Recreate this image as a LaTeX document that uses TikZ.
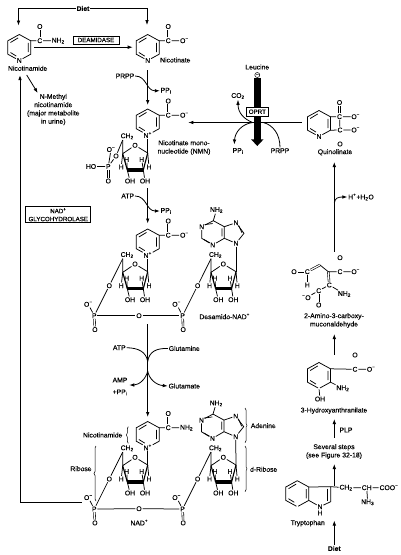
\documentclass[tikz,border=0pt]{standalone}
\usepackage{fontspec}
\setmainfont{Liberation Sans}[FakeBold=0.18]
\usetikzlibrary{arrows.meta,decorations.pathreplacing}

\newcommand{\subtwo}{\textsubscript{2}}
\newcommand{\minus}{\textsuperscript{−}}

\begin{document}
\begin{tikzpicture}[
    x=1pt, y=-1pt,
    every node/.style={font=\fontsize{6.8}{8.3}\selectfont, inner sep=0.7pt, align=center},
    bond/.style={line width=0.75pt},
    dbond/.style={double, double distance=1.2pt, line width=0.6pt},
    flow/.style={line width=0.8pt, -{Latex[length=5pt,width=3.6pt]}},
    plainflow/.style={line width=0.8pt},
    enzyme/.style={draw, line width=0.8pt, fill=white, font=\fontsize{6.2}{8}\selectfont},
    curly/.style={line width=0.5pt, decorate, decoration={brace, amplitude=2pt}},
    pics/sixring/.style={code={
        \coordinate (-t) at (0,-13);
        \coordinate (-ur) at (11.5,-6.7);
        \coordinate (-lr) at (11.5,6.7);
        \coordinate (-ll) at (-11.5,6.7);
        \coordinate (-ul) at (-11.5,-6.7);
        \node (-n) at (0,13) {#1};
        \draw[bond] (-n) -- (-lr) -- (-ur) -- (-t) -- (-ul) -- (-ll) -- (-n);
        \draw[bond] (-8.8,-5) -- (-1.2,-9.6) (8.9,-4.6) -- (8.9,4.6) (-8.8,5) -- (-3,8.6);
    }},
    pics/carboxyl/.style={code={
        \node (-c) at (20.5,-6.8) {C};
        \node (-o) at (20.5,-21) {O};
        \node[anchor=west] (-r) at (31.5,-6.8) {#1};
        \draw[bond] (11.5,-6.7) -- (-c) -- (-r);
        \draw[dbond] (-c) -- (-o);
    }},
    pics/ribose/.style={code={
        \coordinate (-c1) at (0,0);
        \coordinate (-c2) at (-4.4,17);
        \coordinate (-c3) at (-20.4,17);
        \coordinate (-c4) at (-25,0.7);
        \coordinate (-c5) at (-25,-13);
        \node (-o) at (-12.7,-7.7) {O};
        \node (-ch) at (-20.5,-16.7) {CH\subtwo};
        \node (-h1) at (-21,6.5) {H};
        \node (-h2) at (-26.5,14) {H};
        \node (-h3) at (-6,6.5) {H};
        \node (-h4) at (1.3,14) {H};
        \node (-oh1) at (-17.7,28) {OH};
        \node (-oh2) at (-2.7,28) {OH};
        \draw[bond] (-c1) -- (-o) -- (-c4) -- (-c5);
        \draw[line width=1.1pt] (-c4) -- (-c3) (-c1) -- (-c2);
        \draw[line width=3.2pt] (-c3) -- (-c2);
        \draw[bond] (-c3) -- (-h1) (-c2) -- (-h3) (-c4) -- (-h2) (-c1) -- (-h4);
        \draw[bond] (-c3) -- (-oh1) (-c2) -- (-oh2);
    }},
    pics/phosphate/.style={code={
        \node (-p) at (0,0) {P};
        \node (-om) at (-6,-11.4) {O\minus};
        \node (-od) at (0.6,13.9) {O};
        \draw[bond] (-om) -- (-p);
        \draw[dbond] (-p) -- (-od);
    }},
    pics/adenine/.style={code={
        \coordinate (-c6) at (-22.7,-22.6);
        \coordinate (-c2) at (-34.3,-5);
        \coordinate (-c4) at (-11.7,-5);
        \coordinate (-c5) at (-11.7,-16.6);
        \coordinate (-c8) at (8,-10);
        \node (-nh) at (-19.5,-33.3) {NH\subtwo};
        \node (-n1) at (-34.3,-16.5) {N};
        \node (-n3) at (-23.3,1.7) {N};
        \node (-n7) at (0,-20.6) {N};
        \node (-n9) at (0,0) {N};
        \draw[bond] (-nh) -- (-c6) -- (-n1) -- (-c2) -- (-n3) -- (-c4) -- (-c5) -- (-c6);
        \draw[bond] (-c5) -- (-n7) -- (-c8) -- (-n9) -- (-c4);
        \draw[bond] (-31.5,-18.6) -- (-23.4,-19.8) (-32,-3.8) -- (-26,-0.4) (-14,-7) -- (-14,-15) (2.6,-18) -- (6,-10.4);
    }}
]
\useasboundingbox (0,0) rectangle (400,555);

\node[font=\fontsize{6.8}{8}\bfseries] (diettop) at (83,8.5) {Diet};
\pic (nicotinamide) at (19.3,47.5) {sixring=N};
\pic (amide) at (19.3,47.5) {carboxyl={NH\subtwo}};
\node[enzyme, minimum width=46pt, minimum height=8pt] (deamidase) at (96,40) {DEAMIDASE};
\node (nicotinamidetxt) at (27.7,68.3) {Nicotinamide};
\node (methyl) at (53.3,109.5) {N-Methyl\\nicotinamide\\(major metabolite\\in urine)};
\pic (nicotinate) at (147.7,47.5) {sixring=N};
\pic (nicotinatecoo) at (147.7,47.5) {carboxyl={O\minus}};
\node (nicotinatetxt) at (175.3,60) {Nicotinate};

\coordinate (dietleft) at (18.5,25.5);
\coordinate (dietright) at (147,25);
\draw[flow] (diettop.west) -| (dietleft);
\draw[flow] (diettop.east) -| (dietright);
\coordinate (amideout) at (34.3,47.2);
\coordinate (nicotinatein) at (132.7,47.2);
\draw[flow] (amideout) -- (nicotinatein);
\coordinate (methylstart) at (26.7,75);
\coordinate (methylend) at (37.7,93);
\draw[flow] (methylstart) -- (methylend);

\node (prpp) at (125,76) {PRPP};
\node (ppione) at (166,90.7) {PP\textsubscript{i}};
\coordinate (nmntop) at (147.7,70);
\coordinate (nmnin) at (147.7,105);
\draw[flow] (nmntop) -- (nmnin);
\draw[flow] (prpp.east) .. controls (147,76) and (146,91) .. (ppione.west);

\pic (nmn) at (147.7,122) {sixring={N\textsuperscript{+}}};
\pic (nmncoo) at (147.7,122) {carboxyl={O\minus}};
\pic (nmnrib) at (147.7,153) {ribose};
\draw[bond] (nmn-n) -- (nmnrib-c1);
\node (nmno) at (116,156) {O};
\node (nmnoh) at (91,166.5) {HO};
\node (nmnp) at (108.3,166.5) {P};
\node (nmnq) at (111,149.5) {O\minus};
\node (nmnod) at (108.3,181) {O};
\draw[bond] (nmnrib-c5) -- (nmno) -- (nmnp);
\draw[bond] (nmnq) -- (nmnp) -- (nmnoh);
\draw[dbond] (nmnp) -- (nmnod);
\node (nmntxt) at (184,147.6) {Nicotinate mono-\\nucleotide (NMN)};

\node (leucine) at (257.3,67) {Leucine};
\node[draw, circle, fill=white, minimum size=5pt, inner sep=0pt, line width=0.5pt, font=\fontsize{5}{5}\selectfont] (inhibit) at (257.3,75) {−};
\coordinate (barend) at (257.3,146);
\draw[line width=6.6pt, -{Triangle[length=6.6pt,width=12pt]}] (inhibit.south) -- (barend);
\node (cotwo) at (238,96) {CO\subtwo};
\node (ppitwo) at (238,151) {PP\textsubscript{i}};
\node (prpptwo) at (280,150.7) {PRPP};
\pic (quinolinate) at (319,123.5) {sixring=N};
\pic (quincoo) at (319,123.5) {carboxyl={O\minus}};
\node (quinc) at (340,130) {C};
\node (quino) at (340,144) {O};
\node[anchor=west] (quinom) at (350.5,130) {O\minus};
\draw[bond] (quinolinate-lr) -- (quinc) -- (quinom);
\draw[dbond] (quinc) -- (quino);
\draw[bond] (quincoo-c) -- (quinc);
\node (quintxt) at (335,152.3) {Quinolinate};
\coordinate (quinout) at (301.7,122.5);
\coordinate (nmnarrow) at (188.3,122.5);
\draw[flow] (quinout) -- (nmnarrow);
\coordinate (oprtmid) at (252.5,122.5);
\coordinate (prptop) at (263.3,122.5);
\draw[flow] (oprtmid) .. controls (244,119) and (238,113) .. (cotwo.south);
\draw[flow] (oprtmid) .. controls (242,124) and (235,132) .. (234.3,144.5);
\draw[plainflow] (prpptwo.north) .. controls (280,134) and (273,125) .. (prptop);
\node[enzyme, minimum width=22pt, minimum height=8.5pt] (oprt) at (257.3,111.7) {OPRT};

\node[enzyme, minimum width=65pt, minimum height=16pt] (glyco) at (58.3,214.7) {NAD\textsuperscript{+}\\GLYCOHYDROLASE};
\node (atpone) at (127.7,196) {ATP};
\node (ppithree) at (166,211) {PP\textsubscript{i}};
\coordinate (dastart) at (147.7,188);
\coordinate (dain) at (147.7,223.5);
\draw[flow] (dastart) -- (dain);
\draw[flow] (atpone.east) .. controls (147,196) and (146,211) .. (ppithree.west);

\pic (da) at (147.7,242) {sixring={N\textsuperscript{+}}};
\pic (dacoo) at (147.7,242) {carboxyl={O\minus}};
\pic (ad) at (236,243.3) {adenine};
\pic (na) at (147.7,434.5) {sixring={N\textsuperscript{+}}};
\pic (nacoo) at (147.7,434.5) {carboxyl={NH\subtwo}};
\pic (adn) at (235.7,436.7) {adenine};

\foreach \nm/\x/\y in {dal/147.7/271.7, dar/236/271.7, nal/147.7/465, nar/236/465} {
    \pic (\nm) at (\x,\y) {ribose};
    \pic (\nm p) at (\x-53.4,\y+44) {phosphate};
    \node (\nm o) at (\x-38.4,\y+14) {O};
    \draw[bond] (\nm-c5) -- (\nm o) -- (\nm p-p);
}
\draw[bond] (da-n) -- (dal-c1);
\draw[bond] (ad-n9) -- (dar-c1);
\draw[bond] (na-n) -- (nal-c1);
\draw[bond] (adn-n9) -- (nar-c1);
\node (dabridge) at (139,315.7) {O};
\node (nabridge) at (139,508.7) {O};
\draw[bond] (dalp-p) -- (dabridge) -- (darp-p);
\draw[bond] (nalp-p) -- (nabridge) -- (narp-p);
\node (datxt) at (224.7,316.3) {Desamido-NAD\textsuperscript{+}};
\node (natxt) at (139.3,522.5) {NAD\textsuperscript{+}};

\coordinate (glustart) at (147.7,324.3);
\coordinate (gluend) at (147.7,417);
\coordinate (glumeet) at (147.7,361.5);
\coordinate (gluout) at (147.7,371);
\draw[flow] (glustart) -- (gluend);
\node (atptwo) at (119.3,347.7) {ATP};
\node (glutamine) at (184.3,348.5) {Glutamine};
\node (amp) at (120,386.5) {AMP\\[3.5pt]+PP\textsubscript{i}};
\node (glutamate) at (184.3,386) {Glutamate};
\draw[plainflow] (atptwo.east) .. controls (139,348) and (146,352) .. (glumeet);
\draw[plainflow] (glutamine.west) .. controls (156,348) and (149,352) .. (glumeet);
\coordinate (ampend) at (129.3,385);
\draw[flow] (gluout) .. controls (146,379) and (139,385) .. (ampend);
\draw[flow] (gluout) .. controls (149,379) and (156,385) .. (glutamate.west);

\coordinate (feedstart) at (81.7,502.5);
\coordinate (feedend) at (20,75);
\draw[flow, line width=1pt] (feedstart) -| (feedend);

\node (nicobrace) at (102.7,435) {Nicotinamide};
\node (ribbrace) at (81,468.7) {Ribose};
\node (adenbrace) at (263.3,425.7) {Adenine};
\node (dribbrace) at (263.7,469.3) {d-Ribose};
\draw[curly] (128.3,443.3) -- (128.3,426.7);
\draw[curly] (96,501) -- (96,446);
\draw[curly] (245,408) -- (245,442.7);
\draw[curly] (245,446) -- (245,491.7);

\coordinate (hplusfrom) at (334.3,251.5);
\coordinate (hplusto) at (334.3,162);
\draw[flow] (hplusfrom) -- (hplusto);
\node (hplus) at (361,197) {H\textsuperscript{+}+H\subtwo O};
\draw[flow] (334.3,203) .. controls (335,198) and (338,197) .. (hplus.west);

\node (muo) at (294,271.7) {O};
\node (muca) at (307.3,271.7) {C};
\node (muh) at (307.3,285) {H};
\coordinate (mub) at (320,265);
\coordinate (muc) at (328.3,271.7);
\node (mucc) at (340,271.7) {C};
\node (mudo) at (340,257.7) {O};
\node[anchor=west] (muom) at (350.5,271.7) {O\minus};
\node (mucd) at (329.3,285) {C};
\node[anchor=west] (munh) at (337,294) {NH\subtwo};
\node (muce) at (318.7,290.7) {C};
\node[anchor=east] (muol) at (311.5,297.7) {\textsuperscript{−}O};
\node (muod) at (318.7,305) {O};
\draw[dbond] (muo) -- (muca);
\draw[dbond] (muca) -- (mub);
\draw[dbond] (mucc) -- (mudo);
\draw[dbond] (muc) -- (mucd);
\draw[dbond] (muce) -- (muod);
\draw[bond] (muca) -- (muh);
\draw[bond] (mub) -- (muc) -- (mucc) -- (muom);
\draw[bond] (mucd) -- (munh);
\draw[bond] (mucd) -- (muce) -- (muol);
\node (mutxt) at (334,320.5) {2-Amino-3-carboxy-\\muconaldehyde};

\coordinate (hafrom) at (334.3,354.5);
\coordinate (hato) at (334.3,334);
\draw[flow] (hafrom) -- (hato);
\pic (hydroxy) at (319,375.5) {sixring={}};
\node (hac) at (355,369.3) {C};
\node (hao) at (355,355) {O};
\node[anchor=west] (haom) at (366,369.3) {O\minus};
\node[anchor=west] (hanh) at (335.5,388.3) {NH\subtwo};
\node (haoh) at (320,399) {OH};
\draw[bond] (hydroxy-ur) -- (hac) -- (haom);
\draw[dbond] (hac) -- (hao);
\draw[bond] (hydroxy-lr) -- (hanh);
\draw[bond] (hydroxy-n) -- (haoh);
\node (hatxt) at (334,410.7) {3-Hydroxyanthranilate};

\coordinate (plpfrom) at (334.3,437.7);
\coordinate (plpto) at (334.3,419);
\draw[flow] (plpfrom) -- (plpto);
\node (plp) at (346,430) {PLP};
\node (steps) at (334,451.5) {Several steps\\(see Figure 32-18)};
\coordinate (stepfrom) at (334.3,486);
\coordinate (stepto) at (334.3,464);
\draw[flow] (stepfrom) -- (stepto);

\pic (indole) at (297.3,493.7) {sixring={}};
\coordinate (trpcthree) at (330.7,486.7);
\coordinate (trpctwo) at (330.7,501.7);
\node (trpn) at (320,506.7) {N};
\node (trph) at (320,513) {H};
\node (trpch) at (346,487.7) {CH\subtwo};
\node (trpcm) at (366.7,487.7) {CH};
\node (trpcoo) at (389,487.7) {COO\minus};
\node (trpnh) at (367.7,502.3) {NH\textsubscript{3}};
\draw[bond] (indole-ur) -- (trpcthree) -- (trpctwo) -- (trpn) -- (indole-lr);
\draw[bond] (327.8,488.5) -- (327.8,500.5);
\draw[bond] (trpcthree) -- (trpch) -- (trpcm) -- (trpcoo);
\draw[bond] (trpcm) -- (trpnh);
\node (trptxt) at (307.7,523.3) {Tryptophan};
\node[font=\fontsize{6.8}{8}\bfseries] (dietbottom) at (334.3,548.5) {Diet};
\coordinate (trpto) at (334.3,520.5);
\draw[flow] (dietbottom.north) -- (trpto);

\end{tikzpicture}
\end{document}
